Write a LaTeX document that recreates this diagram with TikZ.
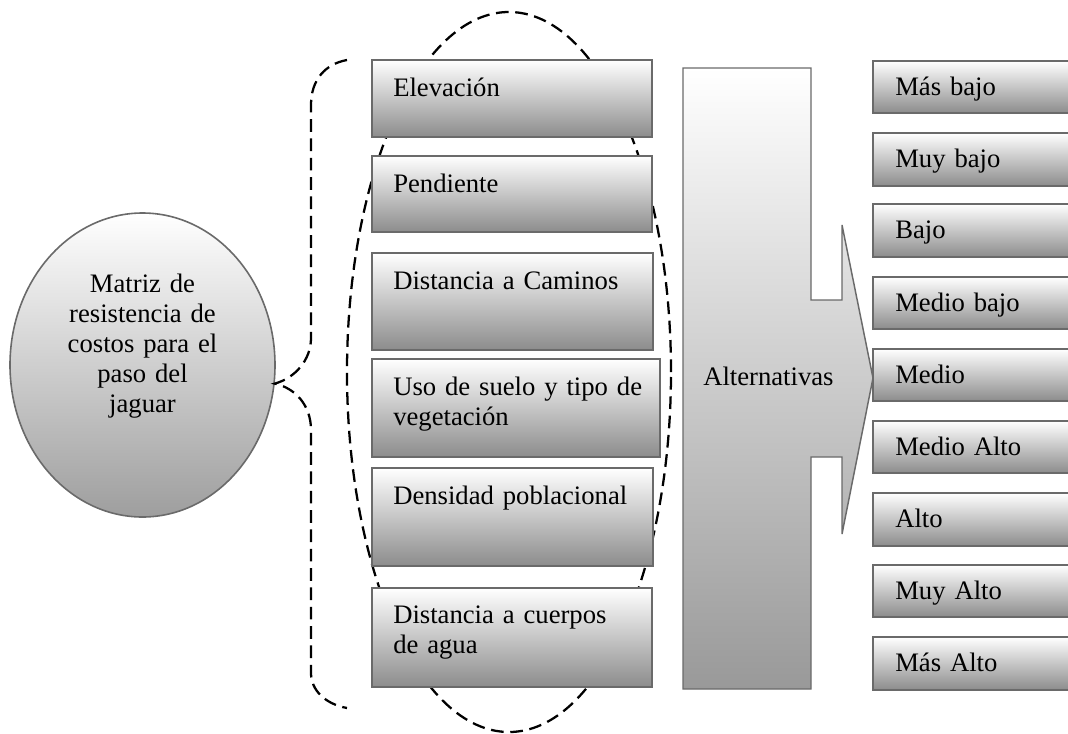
\documentclass[tikz,border=0pt]{standalone}
\usepackage{fontspec}
\setmainfont{Liberation Serif}
\usetikzlibrary{shapes.geometric}
\definecolor{edgegray}{HTML}{6A6A6A}
\definecolor{boxbot}{HTML}{8C8C8C}
\definecolor{altbot}{HTML}{999999}
\definecolor{ellbot}{HTML}{9E9E9E}
\newcommand\mkbox[5]{\node[box, minimum width=#4*0.75pt, minimum height=#5*0.75pt] (#1) at (#2,#3) {};}
\begin{document}
\begin{tikzpicture}[x=0.75pt,y=-0.75pt,
  box/.style={draw=edgegray, line width=1.1pt, top color=white, bottom color=boxbot,
    anchor=north west, inner sep=0pt, outer sep=0pt},
  txt/.style={font=\fontsize{20}{22.5}\selectfont, inner sep=0pt, anchor=base west,
    text width=260pt, align=left},
  dsh/.style={line width=1.7pt, dash pattern=on 9.5pt off 5pt}]
\useasboundingbox (0,0) rectangle (1068,733);
\clip (0,0) rectangle (1068,733);

% dashed ellipse behind the factor boxes
\node[ellipse, draw, dsh, minimum width=324*0.75pt, minimum height=720*0.75pt, inner sep=0pt] (group) at (509,372) {};

% left factor boxes
\mkbox{elev}{372}{60}{280}{77}
\mkbox{pend}{372}{156}{280}{76}
\mkbox{cam}{372}{253}{281}{97}
\mkbox{uso}{372}{359}{288}{98}
\mkbox{dens}{372}{468}{281}{98}
\mkbox{agua}{372}{588}{280}{99}

\node[txt] (elevT) at ([shift={(21,36)}]elev.north west) {Elevación};
\node[txt] (pendT) at ([shift={(21,36)}]pend.north west) {Pendiente};
\node[txt] (camT) at ([shift={(21,36)}]cam.north west) {Distancia a Caminos};
\node[txt] (usoT) at ([shift={(21,36)}]uso.north west) {Uso de suelo y tipo de\\vegetación};
\node[txt] (densT) at ([shift={(21,36)}]dens.north west) {Densidad poblacional};
\node[txt] (aguaT) at ([shift={(21,35)}]agua.north west) {Distancia a cuerpos\\de agua};

% main ellipse
\node[ellipse, draw=edgegray, line width=1.2pt, top color=white, bottom color=ellbot,
  minimum width=265*0.75pt, minimum height=304*0.75pt, inner sep=0pt] (matriz) at (142.5,365) {};
\node[font=\fontsize{20}{22.5}\selectfont, inner sep=0pt, anchor=base, text width=170pt, align=center]
  (matrizT) at (142.5,292) {Matriz de\\resistencia de\\costos para el\\paso del\\jaguar};

% dashed brace
\coordinate (bt) at (347,60);
\coordinate (bb) at (347,708);
\draw[dsh] (bt) .. controls (325,64) and (311,80) .. (311,105) -- (311,338)
  .. controls (311,360) and (295,378) .. (matriz.-8)
  .. controls (295,388) and (311,405) .. (311,430) -- (311,673)
  .. controls (311,690) and (325,704) .. (bb);

% Alternativas arrow shape
\path[draw=edgegray, line width=1.1pt, top color=white, bottom color=altbot]
  (683,68) -- (811,68) -- (811,300) -- (842,300) -- (842,225) -- (873,378)
  -- (842,534) -- (842,457) -- (811,457) -- (811,689) -- (683,689) -- cycle;
\node[font=\fontsize{20}{22.5}\selectfont, inner sep=0pt, anchor=base west] (altT) at (703,385) {Alternativas};

% right class boxes
\mkbox{c1}{873}{61}{210}{52}
\mkbox{c2}{873}{133}{210}{53}
\mkbox{c3}{873}{204}{210}{53}
\mkbox{c4}{873}{277}{210}{52}
\mkbox{c5}{873}{349}{210}{52}
\mkbox{c6}{873}{421}{210}{52}
\mkbox{c7}{873}{493}{210}{53}
\mkbox{c8}{873}{565}{210}{52}
\mkbox{c9}{873}{637}{210}{53}

\node[txt] (c1T) at ([shift={(22,34)}]c1.north west) {Más bajo};
\node[txt] (c2T) at ([shift={(22,34)}]c2.north west) {Muy bajo};
\node[txt] (c3T) at ([shift={(22,34)}]c3.north west) {Bajo};
\node[txt] (c4T) at ([shift={(22,34)}]c4.north west) {Medio bajo};
\node[txt] (c5T) at ([shift={(22,34)}]c5.north west) {Medio};
\node[txt] (c6T) at ([shift={(22,34)}]c6.north west) {Medio Alto};
\node[txt] (c7T) at ([shift={(22,34)}]c7.north west) {Alto};
\node[txt] (c8T) at ([shift={(22,34)}]c8.north west) {Muy Alto};
\node[txt] (c9T) at ([shift={(22,34)}]c9.north west) {Más Alto};
\end{tikzpicture}
\end{document}
